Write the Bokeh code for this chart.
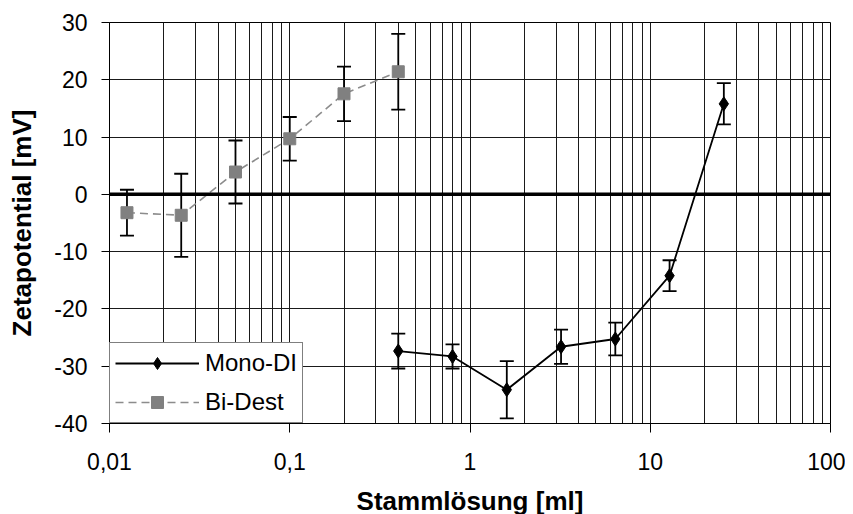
from bokeh.plotting import figure
from bokeh.models import (ColumnDataSource, Whisker, TeeHead, Span, Legend, LegendItem,
                          FixedTicker, CustomJSTickFormatter, Range1d)
from bokeh.embed import file_html
from bokeh.resources import INLINE

# ---- data ----
mono_x = [0.4, 0.8, 1.6, 3.2, 6.4, 12.8, 25.6]
mono_y = [-27.35, -28.3, -34.1, -26.6, -25.25, -14.2, 15.8]
mono_err = [3.05, 2.1, 5.0, 3.0, 2.85, 2.7, 3.6]

bi_x = [0.0125, 0.025, 0.05, 0.1, 0.2, 0.4]
bi_y = [-3.2, -3.65, 3.9, 9.7, 17.55, 21.4]
bi_err = [4.0, 7.25, 5.5, 3.8, 4.75, 6.6]

x_ticks = [0.01, 0.1, 1, 10, 100]
y_ticks = [-40, -30, -20, -10, 0, 10, 20, 30]

FONT = "Liberation Sans"

p = figure(x_axis_type="log", output_backend="svg", toolbar_location=None,
           frame_width=721, frame_height=401,
           x_range=Range1d(0.01, 100), y_range=Range1d(-40, 30))
p.min_border_left = 109
p.min_border_right = 15
p.min_border_top = 22
p.min_border_bottom = 84
p.outline_line_color = "#000000"
p.background_fill_color = "white"
p.border_fill_color = "white"

minor = [m * d for d in x_ticks[:-1] for m in range(2, 10)]
p.xaxis.ticker = FixedTicker(ticks=x_ticks, minor_ticks=minor)
p.xaxis.formatter = CustomJSTickFormatter(code="return tick.toString().replace('.', ',');")
p.yaxis.ticker = FixedTicker(ticks=y_ticks)
p.yaxis.formatter = CustomJSTickFormatter(code="return tick.toFixed(0);")

for ax in (p.xaxis, p.yaxis):
    ax.axis_line_color = "black"
    ax.axis_line_width = 1
    ax.major_tick_line_color = "black"
    ax.major_tick_in = 0
    ax.minor_tick_in = 0
    ax.minor_tick_out = 0
    ax.major_label_text_font = FONT
    ax.major_label_text_font_size = "23px"
    ax.major_label_text_color = "black"
    ax.axis_label_text_font = FONT
    ax.axis_label_text_font_size = "26px"
    ax.axis_label_text_font_style = "bold"
    ax.axis_label_text_color = "black"

p.xaxis.major_tick_out = 9
p.yaxis.major_tick_out = 8
p.xaxis.major_label_standoff = 20
p.yaxis.major_label_standoff = 14
p.xaxis.axis_label = "Stammlösung [ml]"
p.yaxis.axis_label = "Zetapotential [mV]"
p.xaxis.axis_label_standoff = 13
p.yaxis.axis_label_standoff = 14

p.xgrid.grid_line_color = "#1a1a1a"
p.xgrid.minor_grid_line_color = "#1a1a1a"
p.xgrid.grid_line_width = 1
p.ygrid.grid_line_color = "#1a1a1a"
p.ygrid.grid_line_width = 1

p.add_layout(Span(location=0, dimension="width", line_color="black", line_width=3.5))

mono_src = ColumnDataSource(dict(x=mono_x, y=mono_y,
                                 lo=[a - b for a, b in zip(mono_y, mono_err)],
                                 hi=[a + b for a, b in zip(mono_y, mono_err)]))
bi_src = ColumnDataSource(dict(x=bi_x, y=bi_y,
                               lo=[a - b for a, b in zip(bi_y, bi_err)],
                               hi=[a + b for a, b in zip(bi_y, bi_err)]))

for src in (bi_src, mono_src):
    w = Whisker(base="x", lower="lo", upper="hi", source=src,
                line_color="black", line_width=1.8,
                lower_head=TeeHead(size=14, line_color="black", line_width=1.8),
                upper_head=TeeHead(size=14, line_color="black", line_width=1.8))
    p.add_layout(w)

bl = p.line("x", "y", source=bi_src, line_color="#8c8c8c", line_width=1.6, line_dash="8 5")
bs = p.scatter("x", "y", source=bi_src, marker="square", size=12,
               fill_color="#808080", line_color="#808080")
ml = p.line("x", "y", source=mono_src, line_color="black", line_width=1.8)
ms = p.scatter("x", "y", source=mono_src, marker="diamond", size=14,
               fill_color="black", line_color="black")

legend = Legend(items=[LegendItem(label="Mono-DI", renderers=[ml, ms]),
                       LegendItem(label="Bi-Dest", renderers=[bl, bs])],
                location=(0, 0), orientation="vertical")
legend.margin = 0
legend.padding = 5
legend.spacing = 9
legend.glyph_width = 84
legend.glyph_height = 30
legend.label_height = 30
legend.label_standoff = 6
legend.label_text_font = FONT
legend.label_text_font_size = "24px"
legend.label_text_color = "black"
legend.border_line_color = "black"
legend.border_line_width = 1
legend.background_fill_color = "white"
legend.background_fill_alpha = 1
p.add_layout(legend)

open("out.html", "w").write(file_html(p, INLINE))
